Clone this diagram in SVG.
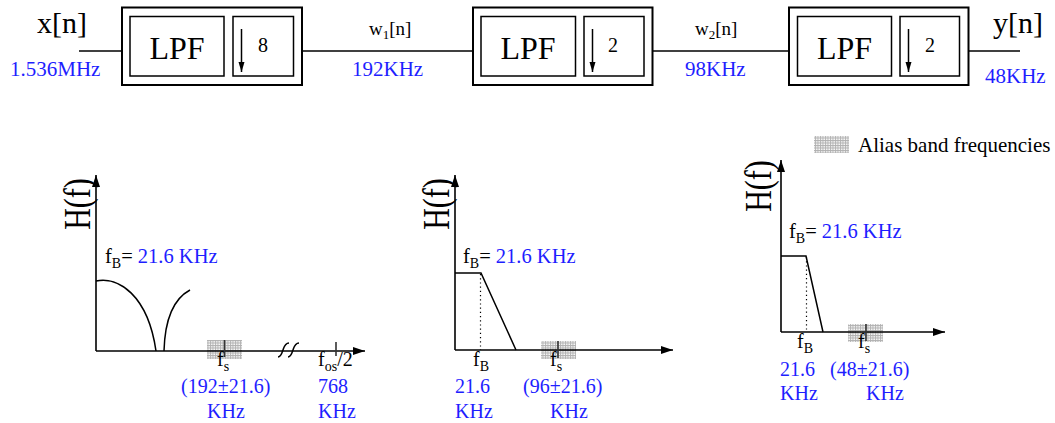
<svg xmlns="http://www.w3.org/2000/svg" width="1055" height="423" viewBox="0 0 1055 423">
<style>
text{font-family:"Liberation Serif","Times New Roman",serif;fill:#000}
.b{fill:#1e1eff}
.box{fill:none;stroke:#000;stroke-width:2}
.inner{fill:none;stroke:#000;stroke-width:1.5}
.ln{fill:none;stroke:#000;stroke-width:1.5}
.ax{fill:none;stroke:#000;stroke-width:1.6}
.dot{fill:none;stroke:#000;stroke-width:1.2;stroke-dasharray:1.2 3}
.alias{fill:url(#alias);stroke:none}
.tick{stroke:#333;stroke-width:1.6}
.lpf{font-size:32px}
.num{font-size:20px}
.sig{font-size:30px}
.lbl{font-size:20px}
.fb{font-size:20.5px}
.hf{font-size:30px}
</style>
<defs>
<pattern id="alias" width="2.5" height="2.5" patternUnits="userSpaceOnUse"><rect width="2.5" height="2.5" fill="#fafafa"/><path d="M0,0.5H2.5M0.5,0V2.5" stroke="#b0b0b0" stroke-width="0.9"/></pattern>
<marker id="ah" markerUnits="userSpaceOnUse" markerWidth="13" markerHeight="8" refX="12" refY="4" orient="auto"><path d="M0,0L12,4L0,8z" fill="#000"/></marker>
<marker id="sh" markerUnits="userSpaceOnUse" markerWidth="11" markerHeight="7" refX="10" refY="3" orient="auto"><path d="M0,0L10,3L0,6z" fill="#000"/></marker>
</defs>

<g id="connectors">
<line class="ln" x1="79" y1="51" x2="122" y2="51"/>
<line class="ln" x1="302" y1="51" x2="473" y2="51"/>
<line class="ln" x1="652" y1="51" x2="789" y2="51"/>
<line class="ln" x1="968" y1="51" x2="1020" y2="51"/>
</g>

<g id="signal-labels">
<text class="sig" x="37" y="33">x[n]</text>
<text class="lbl b" x="10" y="76" style="font-size:21px">1.536MHz</text>
<text class="lbl" x="369" y="35" style="font-size:19px">w<tspan font-size="13" dy="4">1</tspan><tspan dy="-4">[n]</tspan></text>
<text class="lbl b" x="352" y="76" style="font-size:21px">192KHz</text>
<text class="lbl" x="695" y="35" style="font-size:19px">w<tspan font-size="13" dy="4">2</tspan><tspan dy="-4">[n]</tspan></text>
<text class="lbl b" x="685" y="76" style="font-size:21px">98KHz</text>
<text class="sig" x="993" y="33">y[n]</text>
<text class="lbl b" x="985" y="83" style="font-size:21px">48KHz</text>
</g>

<g id="stage1">
<rect class="box" x="122" y="7.5" width="180" height="77.5"/>
<rect class="inner" x="130" y="16.5" width="94" height="59.5"/>
<rect class="inner" x="233" y="16.5" width="60.5" height="59.5"/>
<text class="lpf" x="177" y="59" text-anchor="middle">LPF</text>
<line class="ln" x1="241.5" y1="29" x2="241.5" y2="72" marker-end="url(#sh)"/>
<text class="num" x="263" y="51.5" text-anchor="middle">8</text>
</g>

<g id="stage2">
<rect class="box" x="473" y="7.5" width="179.5" height="77.5"/>
<rect class="inner" x="481" y="16.5" width="94.5" height="59.5"/>
<rect class="inner" x="584" y="16.5" width="60" height="59.5"/>
<text class="lpf" x="528" y="59" text-anchor="middle">LPF</text>
<line class="ln" x1="592.5" y1="29" x2="592.5" y2="72" marker-end="url(#sh)"/>
<text class="num" x="613" y="51.5" text-anchor="middle">2</text>
</g>

<g id="stage3">
<rect class="box" x="789" y="7.5" width="179.5" height="77.5"/>
<rect class="inner" x="797.5" y="16.5" width="94" height="59.5"/>
<rect class="inner" x="900" y="16.5" width="59.5" height="59.5"/>
<text class="lpf" x="844.5" y="59" text-anchor="middle">LPF</text>
<line class="ln" x1="908.5" y1="29" x2="908.5" y2="72" marker-end="url(#sh)"/>
<text class="num" x="930" y="51.5" text-anchor="middle">2</text>
</g>

<g id="legend">
<rect class="alias" x="814" y="136" width="35" height="17"/>
<text class="lbl" x="858" y="152" style="font-size:21px">Alias band frequencies</text>
</g>

<g id="plot1">
<rect class="alias" x="207" y="340" width="35" height="19"/>
<line class="ax" x1="96" y1="351" x2="96" y2="175" marker-end="url(#ah)"/>
<line class="ax" x1="96" y1="351" x2="365" y2="351" marker-end="url(#ah)"/>
<line class="tick" x1="224.5" y1="340" x2="224.5" y2="357"/>
<line class="tick" x1="336" y1="342" x2="336" y2="356"/>
<path class="ln" d="M278,357c3,0 4,-4 5,-7s2,-7 6,-7"/>
<path class="ln" d="M288,357c3,0 4,-4 5,-7s2,-7 6,-7"/>
<path class="ln" d="M96,281C118,276 148,295 156,351"/>
<path class="ln" d="M164,351C165,315 175,298 190,290"/>
<text class="hf" transform="translate(90,204) rotate(-90) scale(1,1.25)" text-anchor="middle">H(f)</text>
<text class="fb" x="105" y="263">f<tspan font-size="14" dy="5">B</tspan><tspan dy="-5">=</tspan><tspan class="b"> 21.6 KHz</tspan></text>
<text class="lbl" x="217" y="366">f<tspan font-size="14" dy="5">s</tspan></text>
<text class="lbl b" x="181" y="393">(192±21.6)</text>
<text class="lbl b" x="207" y="418">KHz</text>
<text class="lbl" x="318" y="366">f<tspan font-size="14" dy="5">os</tspan><tspan dy="-5">/2</tspan></text>
<text class="lbl b" x="318" y="393">768</text>
<text class="lbl b" x="318" y="418">KHz</text>
</g>

<g id="plot2">
<rect class="alias" x="541" y="341" width="35" height="18"/>
<line class="ax" x1="455" y1="350" x2="455" y2="175" marker-end="url(#ah)"/>
<line class="ax" x1="455" y1="350" x2="673" y2="350" marker-end="url(#ah)"/>
<line class="tick" x1="558" y1="341" x2="558" y2="358"/>
<polyline class="ln" points="455,273 481,273 516,350"/>
<line class="dot" x1="480.5" y1="274" x2="480.5" y2="350"/>
<text class="hf" transform="translate(449,204) rotate(-90) scale(1,1.25)" text-anchor="middle">H(f)</text>
<text class="fb" x="463" y="263">f<tspan font-size="14" dy="5">B</tspan><tspan dy="-5">=</tspan><tspan class="b"> 21.6 KHz</tspan></text>
<text class="lbl" x="473" y="366">f<tspan font-size="14" dy="5">B</tspan></text>
<text class="lbl b" x="455" y="393">21.6</text>
<text class="lbl b" x="455" y="418">KHz</text>
<text class="lbl" x="550" y="366">f<tspan font-size="14" dy="5">s</tspan></text>
<text class="lbl b" x="523" y="393">(96±21.6)</text>
<text class="lbl b" x="550" y="418">KHz</text>
</g>

<g id="plot3">
<rect class="alias" x="848" y="324" width="35" height="18"/>
<line class="ax" x1="781" y1="332" x2="781" y2="160" marker-end="url(#ah)"/>
<line class="ax" x1="781" y1="332" x2="945" y2="332" marker-end="url(#ah)"/>
<line class="tick" x1="866" y1="324" x2="866" y2="341"/>
<polyline class="ln" points="781,256 806,256 823,332"/>
<line class="dot" x1="806.5" y1="257" x2="806.5" y2="332"/>
<text class="hf" transform="translate(771,186) rotate(-90) scale(1,1.25)" text-anchor="middle">H(f)</text>
<text class="fb" x="789" y="238">f<tspan font-size="14" dy="5">B</tspan><tspan dy="-5">=</tspan><tspan class="b"> 21.6 KHz</tspan></text>
<text class="lbl" x="797" y="348">f<tspan font-size="14" dy="5">B</tspan></text>
<text class="lbl b" x="780" y="376">21.6</text>
<text class="lbl b" x="780" y="400">KHz</text>
<text class="lbl" x="858" y="348">f<tspan font-size="14" dy="5">s</tspan></text>
<text class="lbl b" x="830" y="376">(48±21.6)</text>
<text class="lbl b" x="866" y="400">KHz</text>
</g>
</svg>
